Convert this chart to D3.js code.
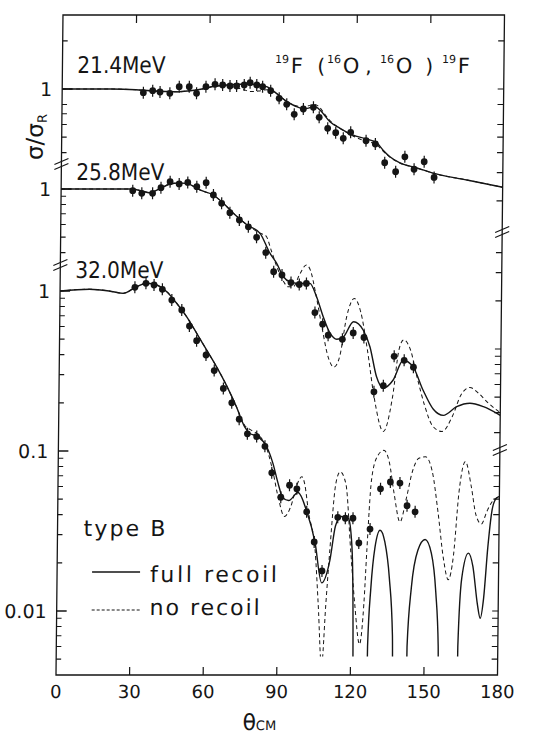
<!DOCTYPE html>
<html><head><meta charset="utf-8">
<script src="https://cdn.jsdelivr.net/npm/d3@7"></script>
<style>
body{margin:0;background:#fff}
svg{display:block}
text{font-family:"DejaVu Sans",sans-serif;fill:#151515}
</style>
</head><body>
<svg id="c" width="544" height="739"></svg>
<script>
// ---------- data ----------
const energies = ["21.4MeV", "25.8MeV", "32.0MeV"];
const xTickValues = [0, 30, 60, 90, 120, 150, 180];
const majorTicks = [[1], [1], [1, 0.1, 0.01]];
const leftMinor = [
  [2, 0.8, 0.7, 0.6, 0.5, 0.4],
  [0.9, 0.8, 0.7, 0.6, 0.5, 0.4],
  [0.9, 0.8, 0.7, 0.6, 0.5, 0.4, 0.3, 0.2, 0.09, 0.08, 0.07, 0.06, 0.05, 0.04, 0.03, 0.02, 0.009, 0.008, 0.007, 0.006, 0.005]
];
const rightMinor = [
  [2, 1, 0.8, 0.6, 0.5, 0.4, 0.3, 0.2],
  [0.4, 0.3, 0.2, 0.1, 0.09, 0.08, 0.07, 0.06, 0.05, 0.04, 0.03],
  [0.08, 0.07, 0.06, 0.05, 0.04, 0.03, 0.02, 0.01, 0.009, 0.008, 0.007, 0.006, 0.005]
];
const yTickLabels = [["1"], ["1"], ["1", "0.1", "0.01"]];

// 21.4 MeV  [theta_cm, sigma/sigma_R]
const d21Data = [[33.1,0.948],[36.9,0.976],[39.9,0.958],[43.9,0.94],[47.7,1.034],[51.8,1.034],[54.8,0.94],[58.6,1.034],[62.3,1.07],[65.4,1.059],[68.4,1.044],[71.1,1.044],[74.2,1.059],[76.6,1.095],[79.3,1.059],[81.7,1.034],[85.0,0.976],[88.5,0.875],[91.6,0.802],[94.7,0.695],[98.4,0.75],[102.5,0.768],[104.9,0.665],[108.4,0.568],[111.7,0.533],[114.8,0.492],[117.8,0.536],[124.1,0.475],[127.9,0.453],[131.8,0.346],[136.3,0.304],[140,0.377],[143.8,0.315],[147.9,0.351],[152,0.28]];
const d21Full = [[0,1.0],[20,1.0],[30,0.99],[36,0.975],[42,0.965],[47,0.96],[52,0.975],[57,1.0],[62,1.04],[67,1.06],[72,1.07],[77,1.07],[80.5,1.06],[83.6,1.03],[87.7,0.93],[91.7,0.833],[95,0.783],[98.3,0.753],[100.5,0.76],[102.3,0.775],[104,0.765],[105.5,0.73],[109.3,0.624],[113.3,0.57],[118.6,0.516],[124.3,0.487],[128.4,0.462],[131,0.416],[133.9,0.377],[138,0.345],[145,0.321],[151.5,0.298],[165.4,0.27],[180,0.243]];
const d21None = [[0,1.0],[20,1.0],[30,0.99],[36,0.975],[42,0.965],[47,0.96],[52,0.975],[57,1.0],[62,1.04],[66,1.05],[70,1.03],[74,0.99],[77,0.965],[80,0.97],[83.6,0.99],[87.7,0.93],[91.7,0.833],[95,0.79],[98.3,0.77],[101,0.79],[103,0.8],[105,0.77],[107,0.7],[109.5,0.63],[113.3,0.57],[118.6,0.51],[124.3,0.47],[128.4,0.45],[131,0.41],[133.9,0.375],[138,0.345],[145,0.321],[151.5,0.298],[165.4,0.27],[180,0.243]];

// 25.8 MeV
const d25Data = [[29.2,0.976],[32.9,0.94],[37.3,0.94],[40.7,1.019],[44.4,1.11],[48.1,1.075],[51.6,1.1],[55.3,1.034],[59.1,1.095],[62.1,0.917],[65.5,0.814],[68.9,0.711],[72.8,0.64],[76.5,0.58],[79.9,0.499],[83.7,0.4],[87,0.304],[90.4,0.29],[94.1,0.26],[97.5,0.253],[100.4,0.257],[104,0.169],[107.2,0.143],[109.5,0.122],[115.3,0.115],[119.7,0.126],[124.1,0.118],[128.4,0.054],[132.2,0.059],[136.5,0.09],[140.6,0.085],[144.4,0.077]];
const d25Full = [[0,1.0],[28.7,1.0],[33,0.97],[36,0.948],[40,1.0],[44.4,1.075],[48,1.09],[51,1.085],[54,1.04],[56.6,0.986],[62,0.917],[66.1,0.818],[70.2,0.708],[76,0.596],[81.3,0.528],[85.4,0.397],[88.2,0.343],[91,0.283],[93.7,0.263],[97.8,0.257],[101.8,0.257],[104.6,0.212],[107.4,0.159],[110.3,0.125],[113,0.115],[115.7,0.119],[119.8,0.148],[123.8,0.131],[126.6,0.103],[129.4,0.067],[132.2,0.057],[136.2,0.064],[140.2,0.085],[144.3,0.077],[148.5,0.055],[152.7,0.042],[156.8,0.0385],[162.2,0.0436],[167.6,0.0458],[173.1,0.0436],[180,0.0385]];
const d25None = [[0,1.0],[28.7,1.0],[33,0.97],[36,0.948],[40,1.0],[44.4,1.075],[48,1.09],[51,1.085],[54,1.04],[56.6,0.986],[62,0.917],[66.1,0.818],[70.2,0.708],[76,0.596],[81.3,0.53],[83.7,0.51],[86,0.41],[88.5,0.32],[91,0.265],[93,0.245],[95.1,0.245],[97.5,0.29],[100.3,0.335],[102,0.31],[104.3,0.22],[107,0.135],[109.5,0.09],[112,0.077],[114.3,0.09],[117,0.16],[120,0.207],[122.7,0.17],[125.5,0.1],[128.5,0.05],[132.4,0.0305],[136,0.05],[138.5,0.1],[140.3,0.114],[143,0.1],[146,0.066],[149,0.045],[152.5,0.033],[156.3,0.0305],[160.5,0.038],[164,0.052],[167.5,0.0575],[171,0.053],[175,0.046],[180,0.04]];

// 32.0 MeV
const d32Data = [[30.5,1.055],[35,1.117],[38.3,1.09],[41.7,1.025],[45.6,0.878],[49.7,0.761],[52.9,0.604],[55.9,0.489],[59.8,0.398],[63.2,0.318],[67,0.246],[70.5,0.2],[73.6,0.158],[77,0.128],[80.8,0.123],[84.2,0.107],[87.1,0.073],[90.9,0.0514],[94.4,0.0611],[97.4,0.058],[101.5,0.0417],[104.7,0.027],[108,0.0178],[114.2,0.0385],[117.3,0.038],[120.4,0.038],[122.9,0.0266],[127.4,0.0325],[131.5,0.058],[135.5,0.064],[139.4,0.063],[142.4,0.0455],[145.7,0.0417]];
const d32Full = [[0,1.0],[12,1.025],[20,1.0],[25.8,0.967],[31.2,1.064],[35.3,1.117],[39.4,1.09],[43.5,0.99],[47.6,0.838],[51.7,0.691],[55.9,0.544],[60,0.428],[64.1,0.337],[68.2,0.258],[72.4,0.189],[75.8,0.142],[77.9,0.129],[81.3,0.123],[84.8,0.107],[87.5,0.084],[89.7,0.063],[91.7,0.051],[94.1,0.049],[97.9,0.055],[101.5,0.042],[105,0.027],[107.9,0.015],[111.2,0.0209],[113.3,0.034],[115.5,0.039],[118.5,0.038],[119.8,0.029],[120.5,0.018],[121,0.005],[121.3,0.0003],[126.3,0.0003],[126.9,0.006],[128,0.014],[129.5,0.025],[131.5,0.032],[133.5,0.027],[135.5,0.016],[137,0.007],[137.8,0.0003],[142.4,0.0003],[143,0.006],[144.5,0.014],[147,0.024],[149.9,0.028],[152.5,0.023],[154.5,0.013],[155.7,0.006],[156.3,0.0003],[163.1,0.0003],[163.7,0.006],[165,0.016],[167.6,0.023],[169.5,0.019],[171.5,0.011],[172.7,0.009],[174,0.012],[175.5,0.025],[177,0.042],[178.5,0.05],[180,0.052]];
const d32None = [[0,1.0],[12,1.025],[20,1.0],[25.8,0.967],[31.2,1.064],[35.3,1.117],[39.4,1.09],[43.5,0.99],[47.6,0.838],[51.7,0.691],[55.9,0.544],[60,0.428],[64.1,0.337],[68.2,0.258],[72.4,0.189],[75.8,0.145],[78.5,0.135],[81.3,0.127],[84.8,0.105],[87.5,0.075],[90,0.05],[92.4,0.039],[95,0.045],[97.5,0.062],[99.4,0.069],[100.5,0.063],[102.3,0.041],[105.1,0.024],[106.6,0.011],[108.2,0.0045],[109.7,0.011],[111.1,0.024],[113.3,0.063],[115,0.074],[117.4,0.062],[119.6,0.024],[121.5,0.011],[123.6,0.0062],[125.2,0.011],[126.2,0.024],[127.8,0.066],[130,0.092],[132.7,0.101],[135,0.085],[137,0.055],[139.6,0.036],[142,0.05],[144.5,0.075],[147,0.09],[149.7,0.092],[152.5,0.075],[155,0.042],[157.5,0.021],[159.5,0.0157],[161.5,0.022],[163.5,0.055],[166,0.086],[168.5,0.06],[170.5,0.04],[172.8,0.035],[175,0.042],[177,0.048],[180,0.052]];

const panels = [
  {data: d21Data, full: d21Full, none: d21None},
  {data: d25Data, full: d25Full, none: d25None},
  {data: d32Data, full: d32Full, none: d32None}
];

// ---------- layout ----------
const INK = "#151515";
const svg = d3.select("#c");
const k = 0.0106; // slight scan skew
const g = svg.append("g")
  .attr("transform", `translate(${k * 674},0) skewX(${-Math.atan(k) * 180 / Math.PI})`);

const yTop = 15, yBottom = 675;
const x = d3.scaleLinear().domain([0, 180]).range([56, 497.5]);
const ys = [89, 189, 291].map(y0 => d3.scaleLog().domain([1, 0.01]).range([y0, y0 + 320]));
const clipLow = [yBottom, yBottom, ys[2](0.0052)];

const defs = svg.append("defs");
ys.forEach((y, i) => {
  defs.append("clipPath").attr("id", "clip" + i).append("rect")
    .attr("x", x(0)).attr("y", yTop).attr("width", x(180) - x(0))
    .attr("height", clipLow[i] - yTop);
});

// frame
g.append("rect").attr("x", x(0)).attr("y", yTop)
  .attr("width", x(180) - x(0)).attr("height", yBottom - yTop)
  .attr("fill", "none").attr("stroke", INK).attr("stroke-width", 1.3);

// x ticks top & bottom
const inner = xTickValues.filter(v => v > 0 && v < 180);
g.append("g").selectAll("line").data(inner).join("line")
  .attr("x1", d => x(d)).attr("x2", d => x(d)).attr("y1", yBottom).attr("y2", yBottom - 8)
  .attr("stroke", INK).attr("stroke-width", 1.2);
g.append("g").selectAll("line").data(inner).join("line")
  .attr("x1", d => x(d)).attr("x2", d => x(d)).attr("y1", yTop).attr("y2", yTop + 8)
  .attr("stroke", INK).attr("stroke-width", 1.2);
g.append("g").selectAll("text").data(xTickValues).join("text")
  .attr("x", d => x(d)).attr("y", 698).attr("text-anchor", "middle")
  .attr("font-size", 18).text(d => d);

// y ticks
ys.forEach((y, i) => {
  majorTicks[i].forEach((v, j) => {
    g.append("line").attr("x1", x(0)).attr("x2", x(0) + 10).attr("y1", y(v)).attr("y2", y(v))
      .attr("stroke", INK).attr("stroke-width", 1.3);
    g.append("text").attr("x", 46).attr("y", y(v) + 7).attr("text-anchor", "end")
      .attr("font-size", 19).text(yTickLabels[i][j]);
  });
  leftMinor[i].forEach(v => {
    g.append("line").attr("x1", x(0)).attr("x2", x(0) + 5).attr("y1", y(v)).attr("y2", y(v))
      .attr("stroke", INK).attr("stroke-width", 1.1);
  });
  rightMinor[i].forEach(v => {
    g.append("line").attr("x1", x(180)).attr("x2", x(180) - 6).attr("y1", y(v)).attr("y2", y(v))
      .attr("stroke", INK).attr("stroke-width", 1.1);
  });
});

// axis breaks
function brk(cx, cy) {
  [-2.5, 2.5].forEach(o => {
    g.append("line").attr("x1", cx - 7).attr("y1", cy + o + 3).attr("x2", cx + 7).attr("y2", cy + o - 3)
      .attr("stroke", INK).attr("stroke-width", 1.2);
  });
}
brk(x(0), 164); brk(x(0), 265);
brk(x(180), 232); brk(x(180), 450);

// curves and points
panels.forEach((p, i) => {
  const y = ys[i];
  const line = d3.line().x(d => x(d[0])).y(d => y(d[1])).curve(d3.curveMonotoneX);
  const gp = g.append("g").attr("clip-path", `url(#clip${i})`);
  gp.append("path").datum(p.none).attr("d", line).attr("fill", "none")
    .attr("stroke", INK).attr("stroke-width", 1).attr("stroke-dasharray", "4,3");
  gp.append("path").datum(p.full).attr("d", line).attr("fill", "none")
    .attr("stroke", INK).attr("stroke-width", 1.4);
  const gd = g.append("g");
  gd.selectAll("line").data(p.data).join("line")
    .attr("x1", d => x(d[0])).attr("x2", d => x(d[0]))
    .attr("y1", d => y(d[1]) - 6).attr("y2", d => y(d[1]) + 6)
    .attr("stroke", INK).attr("stroke-width", 1.2);
  gd.selectAll("circle").data(p.data).join("circle")
    .attr("cx", d => x(d[0])).attr("cy", d => y(d[1])).attr("r", 3.4).attr("fill", INK);
});

// energy labels
[73, 180, 278].forEach((yy, i) => {
  g.append("text").attr("x", 71).attr("y", yy).attr("font-size", 23)
    .attr("textLength", 88).attr("lengthAdjust", "spacingAndGlyphs").text(energies[i]);
});

// reaction label: separate small texts so nothing overlaps
[["19", 268.5, 63, 11], ["F", 284.5, 73, 21], ["(", 311, 73, 20], ["16", 320.5, 63, 11], ["O", 336.5, 73, 21],
 [",", 359, 73, 20], ["16", 373.5, 63, 11], ["O", 389.5, 73, 21], [")", 419, 73, 20],
 ["19", 435.5, 63, 11], ["F", 451.5, 73, 21]].forEach(s => {
  g.append("text").attr("x", s[1]).attr("y", s[2]).attr("font-size", s[3]).text(s[0]);
});

// y axis title
const yt = g.append("text").attr("transform", "translate(37,137) rotate(-90)")
  .attr("text-anchor", "middle").attr("font-size", 23);
yt.append("tspan").text("σ/σ");
yt.append("tspan").attr("font-size", 13).attr("dy", 4).text("R");

// x axis title
const xt = g.append("text").attr("x", 243).attr("y", 730).attr("font-size", 22);
xt.append("tspan").text("θ");
xt.append("tspan").attr("font-size", 13).text("CM");

// legend
g.append("text").attr("x", 82).attr("y", 536).attr("font-size", 22)
  .attr("textLength", 82).attr("lengthAdjust", "spacing").text("type B");
g.append("line").attr("x1", 91).attr("x2", 139).attr("y1", 572).attr("y2", 572)
  .attr("stroke", INK).attr("stroke-width", 1.4);
g.append("text").attr("x", 149).attr("y", 582).attr("font-size", 22)
  .attr("textLength", 127).attr("lengthAdjust", "spacing").text("full recoil");
g.append("line").attr("x1", 91).attr("x2", 139).attr("y1", 610).attr("y2", 610)
  .attr("stroke", INK).attr("stroke-width", 1).attr("stroke-dasharray", "3,2");
g.append("text").attr("x", 149).attr("y", 615).attr("font-size", 22)
  .attr("textLength", 110).attr("lengthAdjust", "spacing").text("no recoil");
</script>
</body></html>
